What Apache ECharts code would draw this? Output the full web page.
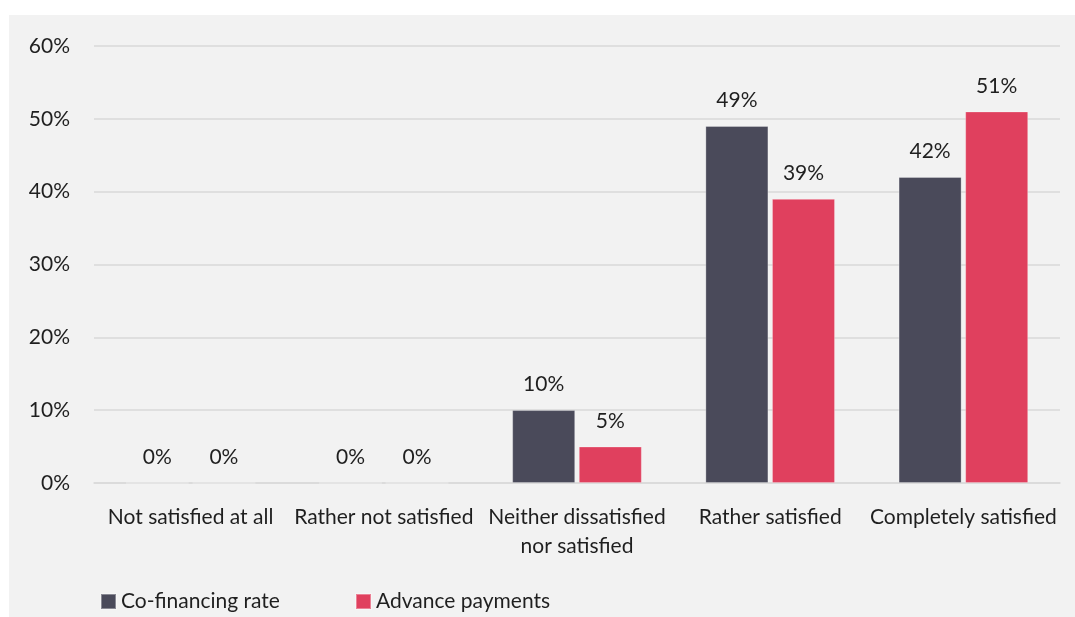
<!DOCTYPE html>
<html>
<head>
<meta charset="utf-8">
<script src="https://cdn.jsdelivr.net/npm/echarts@6/dist/echarts.min.js"></script>
<style>
  html, body { margin: 0; padding: 0; background: #ffffff; width: 1075px; height: 617px; overflow: hidden; }
  #chart { position: absolute; left: 9px; top: 15px; width: 1066px; height: 602px; background: #f2f2f2; }
</style>
</head>
<body>
<div id="chart"></div>
<script>
// Satisfaction levels on the horizontal axis
const categories = [
  'Not satisfied at all',
  'Rather not satisfied',
  'Neither dissatisfied\nnor satisfied',
  'Rather satisfied',
  'Completely satisfied'
];

// Share of respondents (%) per satisfaction level
const coFinancingRate = [0, 0, 10, 49, 42];
const advancePayments = [0, 0, 5, 39, 51];

const seriesNames = ['Co-financing rate', 'Advance payments'];
const seriesColors = ['#4a4a5a', '#e0405e'];

const FONT = 'Lato, "Open Sans", sans-serif';
const TEXT = '#1f1f1f';
const FS = 21;

const chart = echarts.init(document.getElementById('chart'), null, { renderer: 'canvas' });

function barSeries(name, data, color) {
  return {
    name: name,
    type: 'bar',
    data: data,
    barGap: '6%',
    barCategoryGap: '33%',
    itemStyle: { color: color, borderColor: 'rgba(255,255,255,0.35)', borderWidth: 0.8 },
    label: {
      show: true,
      position: 'top',
      distance: 15,
      formatter: '{c}%',
      fontFamily: FONT,
      fontSize: FS,
      color: TEXT
    }
  };
}

function legendFor(name, left) {
  return {
    data: [name],
    left: left, top: 576,
    padding: 0,
    icon: 'rect', itemWidth: 15, itemHeight: 15, itemGap: 5,
    textStyle: { fontFamily: FONT, fontSize: FS, color: TEXT }
  };
}

chart.setOption({
  animation: false,
  backgroundColor: 'transparent',
  grid: { left: 85, right: 15, top: 31, bottom: 134, containLabel: false },
  legend: [
    legendFor(seriesNames[0], 91),
    legendFor(seriesNames[1], 346)
  ],
  xAxis: {
    type: 'category',
    data: categories,
    axisLine: { show: true, lineStyle: { color: '#d9d9d9', width: 1.5 } },
    axisTick: { show: false },
    axisLabel: {
      interval: 0,
      margin: 20,
      fontFamily: FONT,
      fontSize: FS,
      lineHeight: 29,
      color: TEXT,
      verticalAlign: 'top'
    }
  },
  yAxis: {
    type: 'value',
    min: 0,
    max: 60,
    interval: 10,
    axisLine: { show: false },
    axisTick: { show: false },
    splitLine: { show: true, lineStyle: { color: '#d9d9d9', width: 1.5 } },
    axisLabel: {
      formatter: '{value}%',
      margin: 24,
      fontFamily: FONT,
      fontSize: FS,
      color: TEXT
    }
  },
  series: [
    barSeries(seriesNames[0], coFinancingRate, seriesColors[0]),
    barSeries(seriesNames[1], advancePayments, seriesColors[1])
  ]
});
</script>
</body>
</html>
